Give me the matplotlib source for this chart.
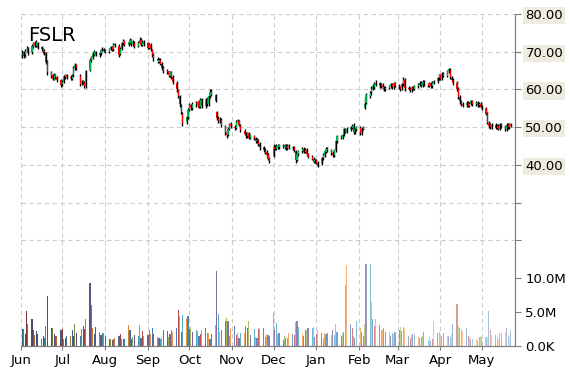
import numpy as np
import pandas as pd
import matplotlib
matplotlib.use('Agg')
import matplotlib.pyplot as plt
import matplotlib.dates as mdates
from matplotlib.colors import to_rgb

# FSLR daily candles, Jun 2014 - May 2015 (one line = two weeks)
opens = [
    69.0, 69.8, 69.0, 70.4, 70.9,  69.8, 71.6, 72.4, 71.6, 72.4,
    71.2, 70.6, 70.2, 69.6, 67.4,  64.6, 63.8, 62.6, 63.8, 63.4,
    62.6, 61.4, 62.0, 63.2, 63.9,  63.4, 62.8, 63.8, 65.6, 66.6,
    63.6, 61.6, 62.2, 61.8, 60.8,  65.2, 67.9, 68.4, 69.2, 69.8,
    69.0, 69.6, 70.6, 70.6, 70.4,  70.0, 70.8, 71.2, 70.6, 71.6,
    71.6, 69.4, 70.8, 72.2, 72.8,  71.8, 72.4, 73.0, 72.0, 72.4,
    71.6, 72.4, 73.2, 71.8, 72.6,  72.2, 71.0, 71.8, 70.4, 69.2,
    68.0, 67.4, 67.8, 66.8, 65.8,  65.0, 64.8, 63.6, 64.6, 63.4,
    61.8, 59.8, 58.2, 55.6, 53.6,  51.4, 52.8, 54.6, 55.8, 55.0,
    56.4, 55.8, 56.8, 55.4, 57.4,  55.6, 57.6, 56.0, 58.2, 59.6,
    58.4, 54.0, 52.2, 51.6, 52.0,  50.2, 48.4, 48.0, 49.6, 50.8,
    50.0, 49.8, 51.4, 51.6, 50.4,  49.0, 48.2, 47.6, 48.4, 47.2,
    47.6, 47.0, 46.2, 46.4, 45.6,  44.6, 44.0, 43.4, 42.6, 41.8,
    42.4, 44.8, 44.2, 45.0, 44.6,  45.0, 44.6, 45.2, 44.4, 45.0,
    44.4, 44.6, 43.6, 41.4, 42.8,  43.6, 44.2, 43.4, 44.0, 42.8,
    42.2, 41.6, 40.8, 41.2, 40.6,  40.2, 41.8, 42.6, 43.4, 44.2,
    43.8, 43.2, 42.6, 43.8, 46.2,  47.6, 47.2, 48.0, 49.4, 48.8,
    49.4, 49.8, 50.4, 48.8, 49.4,  49.8, 48.4, 49.6, 55.0, 56.4,
    58.2, 59.2, 60.2, 60.6, 61.2,  61.6, 60.8, 61.2, 60.6, 60.0,
    60.4, 60.8, 61.4, 60.6, 61.6,  61.0, 60.6, 60.2, 61.4, 62.6,
    60.4, 60.2, 59.8, 60.6, 60.2,  60.8, 61.2, 61.8, 61.0, 62.0,
    61.4, 61.0, 61.6, 60.8, 61.8,  62.2, 63.0, 63.8, 62.8, 64.2,
    63.6, 64.8, 65.2, 63.2, 62.6,  61.8, 60.2, 58.0, 56.8, 56.2,
    55.8, 56.4, 55.6, 56.2, 56.8,  56.0, 56.4, 55.8, 56.2, 55.4,
    55.0, 53.6, 51.2, 50.6, 50.0,  50.6, 49.8, 50.4, 49.6, 50.8,
    50.2, 49.4, 50.6, 50.0, 50.8,
]
highs = [
    70.4, 70.2, 70.6, 71.4, 71.2,  72.0, 72.6, 72.8, 73.2, 72.6,
    71.6, 71.0, 70.6, 70.0, 67.8,  65.0, 64.2, 64.4, 64.2, 63.6,
    62.8, 62.4, 63.8, 64.2, 64.2,  63.8, 64.0, 66.2, 67.0, 66.8,
    64.0, 62.6, 62.6, 62.2, 65.2,  68.2, 68.9, 69.8, 70.4, 70.2,
    70.0, 70.8, 71.2, 71.0, 70.8,  71.0, 71.6, 71.6, 72.2, 72.4,
    72.0, 71.2, 72.6, 73.4, 73.2,  72.9, 73.6, 73.4, 73.0, 72.8,
    72.8, 73.8, 73.6, 73.0, 73.0,  72.6, 72.2, 72.2, 70.8, 69.6,
    68.6, 68.4, 68.2, 67.2, 66.2,  65.4, 65.0, 65.0, 65.0, 63.8,
    62.2, 60.2, 58.6, 56.2, 54.0,  53.0, 55.0, 56.4, 56.2, 56.6,
    56.8, 57.0, 57.2, 57.8, 57.8,  57.8, 58.0, 58.6, 60.0, 60.0,
    58.8, 54.4, 53.0, 52.6, 52.4,  50.6, 49.0, 50.0, 51.2, 51.4,
    50.6, 51.8, 52.2, 52.0, 50.8,  49.4, 48.6, 48.8, 48.8, 48.2,
    48.0, 47.4, 47.0, 46.8, 46.0,  45.0, 44.4, 43.8, 43.0, 42.2,
    45.6, 45.2, 45.4, 45.4, 45.6,  45.4, 45.6, 45.6, 45.4, 45.4,
    45.0, 45.0, 44.0, 43.2, 44.0,  44.6, 44.6, 44.4, 44.4, 43.2,
    42.6, 42.0, 41.6, 41.6, 41.0,  42.2, 43.0, 44.0, 44.6, 44.6,
    44.2, 43.6, 44.2, 46.6, 48.0,  48.0, 48.4, 49.8, 49.8, 50.0,
    50.4, 50.8, 51.0, 49.8, 50.4,  50.2, 50.0, 50.4, 57.8, 59.0,
    59.6, 60.8, 61.4, 62.0, 62.4,  62.0, 61.6, 61.6, 61.0, 60.8,
    61.2, 61.8, 61.8, 62.0, 62.0,  61.4, 61.0, 61.8, 63.4, 63.0,
    60.8, 60.6, 61.0, 61.0, 61.2,  61.6, 62.2, 62.2, 62.4, 62.4,
    61.8, 62.0, 62.0, 62.2, 62.6,  63.4, 64.2, 64.2, 64.6, 64.6,
    65.2, 65.8, 65.6, 63.6, 63.0,  62.2, 60.6, 58.4, 57.2, 56.6,
    56.8, 56.8, 56.6, 57.2, 57.2,  56.8, 56.8, 56.6, 56.6, 55.8,
    55.4, 54.0, 51.6, 51.0, 51.0,  51.0, 50.8, 50.8, 51.2, 51.2,
    50.6, 51.0, 51.0, 51.2, 51.2,
]
lows = [
    68.4, 68.2, 68.6, 69.8, 69.2,  69.4, 71.0, 71.2, 71.2, 70.6,
    70.2, 69.6, 69.2, 66.8, 63.8,  63.0, 62.4, 62.4, 62.8, 62.0,
    60.6, 61.0, 61.8, 62.8, 62.8,  62.6, 62.4, 63.4, 65.2, 65.2,
    61.0, 61.2, 61.4, 60.4, 60.4,  65.0, 67.4, 68.0, 68.8, 68.8,
    68.6, 69.2, 70.2, 69.8, 69.6,  69.6, 70.4, 70.2, 70.2, 71.2,
    68.6, 69.0, 70.4, 71.8, 71.4,  71.4, 72.0, 71.6, 71.6, 71.0,
    71.2, 72.0, 71.4, 71.4, 71.6,  70.6, 70.6, 70.2, 68.6, 67.6,
    67.0, 67.0, 66.4, 65.2, 64.4,  64.0, 63.4, 63.2, 62.8, 61.4,
    59.4, 57.6, 55.2, 53.4, 50.2,  50.8, 52.2, 54.2, 54.6, 54.6,
    55.4, 55.2, 55.0, 55.0, 55.0,  55.0, 55.6, 55.6, 57.8, 58.2,
    56.6, 52.0, 51.0, 51.2, 50.0,  47.8, 47.2, 47.6, 49.2, 49.8,
    49.2, 49.6, 51.0, 50.2, 48.6,  47.8, 47.2, 47.2, 46.8, 46.8,
    46.6, 45.8, 45.8, 45.0, 44.0,  43.4, 42.8, 42.2, 41.2, 40.6,
    42.2, 43.8, 43.8, 44.2, 44.2,  44.4, 44.2, 44.0, 44.0, 44.2,
    44.0, 43.4, 40.6, 41.0, 42.4,  43.2, 43.0, 43.0, 42.4, 41.8,
    41.2, 40.4, 40.4, 40.2, 39.4,  40.0, 41.4, 42.2, 43.0, 43.4,
    42.6, 42.2, 42.2, 43.4, 45.8,  46.8, 46.8, 47.6, 48.4, 48.4,
    49.0, 49.4, 48.2, 48.2, 49.0,  47.8, 48.0, 49.2, 54.8, 56.0,
    57.6, 58.6, 59.8, 60.2, 60.8,  60.4, 60.4, 60.2, 59.6, 59.6,
    60.0, 60.4, 60.2, 60.2, 60.6,  60.2, 59.6, 59.8, 61.0, 59.6,
    59.8, 59.4, 59.4, 59.8, 59.8,  60.4, 60.8, 60.6, 60.6, 61.0,
    60.6, 60.6, 60.4, 60.4, 61.4,  61.8, 62.6, 62.4, 62.4, 63.2,
    63.2, 64.4, 62.8, 62.2, 61.2,  59.6, 57.4, 56.2, 55.6, 55.2,
    55.4, 55.2, 55.2, 55.8, 55.6,  55.6, 55.4, 55.4, 55.0, 54.6,
    53.2, 50.8, 49.8, 49.4, 49.6,  49.4, 49.4, 49.2, 49.2, 49.8,
    49.0, 49.0, 49.6, 49.6, 50.0,
]
closes = [
    69.5, 68.8, 70.2, 70.8, 69.6,  71.5, 72.2, 71.8, 72.6, 71.0,
    70.8, 70.0, 69.8, 67.2, 64.5,  63.5, 62.8, 63.9, 63.2, 62.6,
    61.2, 62.0, 63.5, 63.8, 63.2,  63.0, 63.6, 65.8, 66.5, 65.6,
    61.5, 62.0, 61.8, 60.8, 64.8,  67.8, 68.5, 69.4, 69.9, 69.2,
    69.6, 70.4, 70.8, 70.2, 70.0,  70.6, 71.2, 70.5, 71.8, 72.0,
    69.2, 70.8, 72.2, 72.8, 71.8,  72.5, 73.0, 72.0, 72.6, 71.4,
    72.4, 73.2, 71.8, 72.6, 72.0,  71.0, 71.8, 70.6, 69.0, 68.2,
    67.6, 67.9, 66.8, 65.6, 65.0,  64.6, 63.8, 64.6, 63.2, 62.0,
    60.0, 58.2, 56.0, 54.0, 51.2,  52.6, 54.5, 55.8, 55.0, 56.2,
    56.0, 56.6, 55.4, 57.2, 55.6,  57.4, 56.0, 58.2, 59.4, 58.6,
    57.0, 52.4, 51.6, 52.0, 50.6,  48.6, 47.8, 49.6, 50.8, 50.2,
    49.8, 51.4, 51.8, 50.6, 49.2,  48.2, 47.6, 48.4, 47.2, 47.8,
    47.0, 46.2, 46.6, 45.4, 44.6,  44.0, 43.2, 42.6, 41.6, 41.0,
    44.8, 44.2, 45.0, 44.6, 45.2,  44.8, 45.2, 44.4, 45.0, 44.6,
    44.6, 43.8, 41.2, 42.8, 43.6,  44.2, 43.4, 44.0, 42.8, 42.2,
    41.6, 40.8, 41.2, 40.6, 39.8,  41.8, 42.6, 43.6, 44.2, 43.8,
    43.0, 42.6, 43.8, 46.2, 47.6,  47.2, 48.0, 49.4, 48.8, 49.6,
    49.8, 50.2, 48.8, 49.4, 50.0,  48.4, 49.6, 50.0, 56.2, 58.4,
    59.0, 60.2, 60.8, 61.4, 61.8,  60.8, 61.2, 60.6, 60.0, 60.4,
    60.8, 61.4, 60.6, 61.6, 61.0,  60.6, 60.2, 61.4, 62.4, 60.4,
    60.2, 59.8, 60.6, 60.2, 60.8,  61.2, 61.8, 61.0, 62.0, 61.4,
    61.0, 61.6, 60.8, 61.8, 62.2,  63.0, 63.8, 62.8, 64.2, 63.6,
    64.8, 65.4, 63.2, 62.6, 61.8,  60.2, 58.0, 56.8, 56.2, 55.8,
    56.4, 55.6, 56.2, 56.8, 56.0,  56.4, 55.8, 56.2, 55.4, 55.0,
    53.6, 51.2, 50.4, 50.0, 50.6,  49.8, 50.4, 49.6, 50.8, 50.2,
    49.4, 50.6, 50.0, 50.8, 50.4,
]
# volume in millions of shares
volume = [
    2.5, 2.5, 1.8, 5.1, 3.2,  4.0, 2.3, 1.6, 2.2, 1.8,
    1.0, 1.4, 1.2, 2.9, 7.3,  2.7, 2.6, 1.8, 1.5, 1.5,
    2.3, 2.5, 1.0, 1.2, 1.4,  1.5, 2.3, 1.5, 3.2, 1.9,
    1.4, 2.5, 2.9, 2.5, 4.0,  9.3, 6.0, 2.6, 1.8, 2.8,
    2.1, 1.6, 1.9, 1.9, 1.5,  1.0, 1.0, 0.9, 1.1, 1.2,
    1.5, 1.8, 1.0, 1.1, 1.0,  3.1, 2.4, 1.1, 1.3, 1.6,
    1.4, 3.1, 1.2, 2.2, 1.5,  1.6, 2.4, 1.8, 2.6, 1.8,
    1.3, 1.2, 1.1, 1.2, 2.4,  2.2, 1.3, 1.8, 2.4, 2.1,
    2.6, 5.3, 4.4, 2.0, 4.6,  4.1, 4.4, 2.5, 2.8, 2.0,
    2.3, 2.2, 1.5, 1.8, 2.3,  2.7, 1.9, 1.9, 1.0, 1.8,
    3.1, 11.1, 4.7, 2.0, 2.3,  3.7, 4.1, 3.7, 1.5, 2.5,
    2.9, 1.6, 1.9, 1.2, 1.9,  1.9, 2.9, 2.6, 3.7, 1.6,
    2.5, 1.3, 1.2, 2.5, 2.7,  2.7, 1.3, 1.8, 1.6, 1.4,
    4.9, 2.4, 3.4, 1.8, 1.9,  0.9, 1.5, 1.2, 1.2, 1.9,
    1.8, 1.6, 3.6, 3.7, 2.8,  1.8, 1.5, 2.4, 2.4, 2.6,
    2.6, 2.8, 1.3, 1.8, 2.4,  1.9, 1.2, 1.9, 1.8, 1.9,
    1.6, 2.4, 1.6, 3.2, 2.1,  1.4, 1.8, 2.0, 9.0, 11.9,
    3.2, 2.6, 1.5, 1.2, 3.7,  2.7, 2.1, 1.5, 3.2, 12.0,
    12.0, 6.5, 4.0, 3.0, 4.0,  3.1, 2.4, 2.4, 2.6, 2.1,
    2.1, 1.5, 1.9, 1.8, 2.1,  2.4, 2.8, 2.2, 2.8, 2.6,
    1.5, 1.2, 1.6, 1.8, 1.8,  1.3, 1.2, 1.3, 1.5, 2.0,
    0.9, 1.3, 0.8, 1.0, 3.7,  1.9, 2.1, 1.1, 1.5, 1.9,
    1.4, 1.5, 1.3, 1.8, 3.2,  6.2, 2.9, 2.6, 2.4, 2.2,
    2.6, 1.5, 1.3, 1.1, 1.1,  1.1, 0.9, 1.3, 1.4, 1.3,
    1.3, 1.3, 5.1, 2.3, 1.6,  1.6, 1.3, 0.9, 1.9, 1.9,
    2.1, 2.6, 1.6, 1.3, 2.4,
]

dates = pd.bdate_range('2014-06-02', periods=len(closes))
x = mdates.date2num(dates)

price_ticks = [20, 30, 40, 50, 60, 70, 80]
price_labels = ['', '', '40.00', '50.00', '60.00', '70.00', '80.00']
vol_ticks = [0, 5, 10]
vol_labels = ['0.0K', '5.0M', '10.0M']

fig = plt.figure(figsize=(5.7, 3.7), dpi=100)
ax = fig.add_axes([21/570, 1-346/370, 494/570, 332/370])
ax2 = ax.twinx()

# candles
o = np.array(opens); h = np.array(highs); l = np.array(lows); c = np.array(closes)
up = c >= o
ax.vlines(x, l, h, color='black', lw=1.0, zorder=3)
ax.bar(x, c - o, bottom=o, width=0.8, color=np.where(up, '#00b050', '#ff0000'),
       linewidth=0, zorder=4)

# volume bars, office-like palette going from dark shades to light tints
base = ['#4f81bd', '#c0504d', '#9bbb59', '#8064a2', '#4bacc6', '#f79646']
cols = []
n = len(volume)
for i in range(n):
    rgb = np.array(to_rgb(base[(i + 4) % 6]))
    t = -0.35 + 1.0 * i / (n - 1)
    if t < 0:
        rgb = rgb * (1 + t)
    else:
        rgb = rgb + (1 - rgb) * t * 0.8
    cols.append(tuple(rgb))
ax2.bar(x, volume, width=0.8, color=cols, linewidth=0)

ax.set_xlim(mdates.date2num(pd.Timestamp('2014-06-01')),
            mdates.date2num(pd.Timestamp('2015-05-25')))
ax.set_ylim(80 - 332/3.77, 80)
ax2.set_ylim(0, 10 * 332/68)

ax.xaxis.set_major_locator(mdates.MonthLocator())
ax.xaxis.set_major_formatter(mdates.DateFormatter('%b'))
ax.yaxis.tick_right()
ax.set_yticks(price_ticks)
ax.set_yticklabels(price_labels)
ax2.set_yticks(vol_ticks)
ax2.set_yticklabels(vol_labels)

for a in (ax, ax2):
    for s in ('top', 'left'):
        a.spines[s].set_visible(False)
    a.spines['right'].set_color('#7f7f7f')
    a.spines['bottom'].set_color('#7f7f7f')
    a.tick_params(colors='#7f7f7f', labelcolor='black', labelsize=9.5, length=4)
ax.tick_params(axis='x', length=3, pad=3)

for t in ax.get_yticklabels():
    if t.get_text():
        t.set_bbox(dict(facecolor='#eeece1', edgecolor='none', pad=1.5))

ax.grid(True, color='#cccccc', linestyle=(0, (4, 3)), lw=0.8)
ax.set_axisbelow(True)

ax.text(0.015, 0.965, 'FSLR', transform=ax.transAxes, fontsize=14, va='top', ha='left')

fig.savefig('out.png', dpi=100)
